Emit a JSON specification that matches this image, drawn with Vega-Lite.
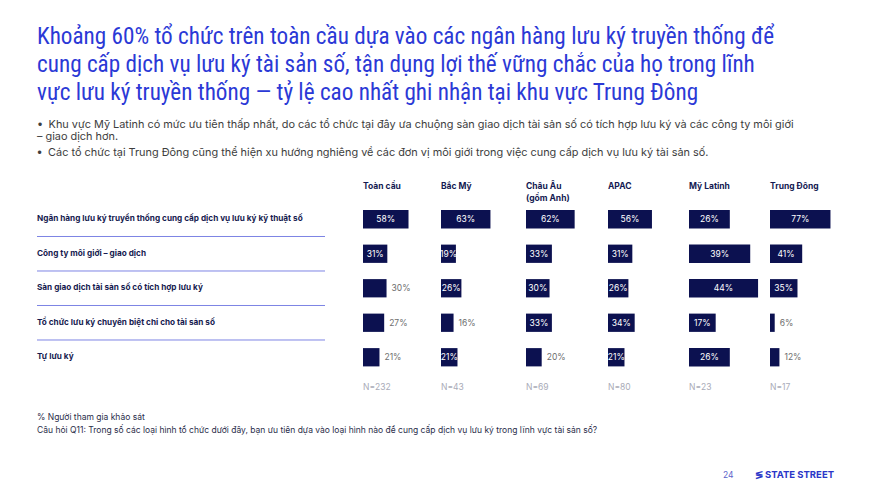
{
  "$schema": "https://vega.github.io/schema/vega-lite/v6.json",
  "padding": {"left": 36, "top": 24.5, "right": 10, "bottom": 8},
  "background": "white",
  "title": {
    "text": [
      "Khoảng 60% tổ chức trên toàn cầu dựa vào các ngân hàng lưu ký truyền thống để",
      "cung cấp dịch vụ lưu ký tài sản số, tận dụng lợi thế vững chắc của họ trong lĩnh",
      "vực lưu ký truyền thống — tỷ lệ cao nhất ghi nhận tại khu vực Trung Đông"
    ],
    "subtitle": [
      "•\u2002Khu vực Mỹ Latinh có mức ưu tiên thấp nhất, do các tổ chức tại đây ưa chuộng sàn giao dịch tài sản số có tích hợp lưu ký và các công ty môi giới",
      "\u2002\u2002– giao dịch hơn."
    ],
    "anchor": "start",
    "frame": "group",
    "font": "Noto Sans SemiCondensed, Nimbus Sans Narrow, Roboto Condensed, Arial Narrow, Fira Sans Condensed, Ubuntu Condensed, Open Sans Condensed",
    "fontSize": 23.2,
    "fontWeight": "normal",
    "lineHeight": 28,
    "color": "#2b39d6",
    "subtitleFont": "Inter",
    "subtitleFontSize": 10.9,
    "subtitleColor": "#3d3d3d",
    "subtitleLineHeight": 12,
    "subtitlePadding": 13.5,
    "offset": 4
  },
  "datasets": {
    "d": [
      {"region": "Toàn cầu", "cat": "Ngân hàng lưu ký truyền thống cung cấp dịch vụ lưu ký kỹ thuật số", "value": 0.58},
      {"region": "Toàn cầu", "cat": "Công ty môi giới – giao dịch", "value": 0.31},
      {"region": "Toàn cầu", "cat": "Sàn giao dịch tài sản số có tích hợp lưu ký", "value": 0.30},
      {"region": "Toàn cầu", "cat": "Tổ chức lưu ký chuyên biệt chỉ cho tài sản số", "value": 0.27},
      {"region": "Toàn cầu", "cat": "Tự lưu ký", "value": 0.21},
      {"region": "Bắc Mỹ", "cat": "Ngân hàng lưu ký truyền thống cung cấp dịch vụ lưu ký kỹ thuật số", "value": 0.63},
      {"region": "Bắc Mỹ", "cat": "Công ty môi giới – giao dịch", "value": 0.19},
      {"region": "Bắc Mỹ", "cat": "Sàn giao dịch tài sản số có tích hợp lưu ký", "value": 0.26},
      {"region": "Bắc Mỹ", "cat": "Tổ chức lưu ký chuyên biệt chỉ cho tài sản số", "value": 0.16},
      {"region": "Bắc Mỹ", "cat": "Tự lưu ký", "value": 0.21},
      {"region": "Châu Âu", "cat": "Ngân hàng lưu ký truyền thống cung cấp dịch vụ lưu ký kỹ thuật số", "value": 0.62},
      {"region": "Châu Âu", "cat": "Công ty môi giới – giao dịch", "value": 0.33},
      {"region": "Châu Âu", "cat": "Sàn giao dịch tài sản số có tích hợp lưu ký", "value": 0.30},
      {"region": "Châu Âu", "cat": "Tổ chức lưu ký chuyên biệt chỉ cho tài sản số", "value": 0.33},
      {"region": "Châu Âu", "cat": "Tự lưu ký", "value": 0.20},
      {"region": "APAC", "cat": "Ngân hàng lưu ký truyền thống cung cấp dịch vụ lưu ký kỹ thuật số", "value": 0.56},
      {"region": "APAC", "cat": "Công ty môi giới – giao dịch", "value": 0.31},
      {"region": "APAC", "cat": "Sàn giao dịch tài sản số có tích hợp lưu ký", "value": 0.26},
      {"region": "APAC", "cat": "Tổ chức lưu ký chuyên biệt chỉ cho tài sản số", "value": 0.34},
      {"region": "APAC", "cat": "Tự lưu ký", "value": 0.21},
      {"region": "Mỹ Latinh", "cat": "Ngân hàng lưu ký truyền thống cung cấp dịch vụ lưu ký kỹ thuật số", "value": 0.26},
      {"region": "Mỹ Latinh", "cat": "Công ty môi giới – giao dịch", "value": 0.39},
      {"region": "Mỹ Latinh", "cat": "Sàn giao dịch tài sản số có tích hợp lưu ký", "value": 0.44},
      {"region": "Mỹ Latinh", "cat": "Tổ chức lưu ký chuyên biệt chỉ cho tài sản số", "value": 0.17},
      {"region": "Mỹ Latinh", "cat": "Tự lưu ký", "value": 0.26},
      {"region": "Trung Đông", "cat": "Ngân hàng lưu ký truyền thống cung cấp dịch vụ lưu ký kỹ thuật số", "value": 0.77},
      {"region": "Trung Đông", "cat": "Công ty môi giới – giao dịch", "value": 0.41},
      {"region": "Trung Đông", "cat": "Sàn giao dịch tài sản số có tích hợp lưu ký", "value": 0.35},
      {"region": "Trung Đông", "cat": "Tổ chức lưu ký chuyên biệt chỉ cho tài sản số", "value": 0.06},
      {"region": "Trung Đông", "cat": "Tự lưu ký", "value": 0.12}
    ],
    "r": [
      {"region": "Toàn cầu", "header": "Toàn cầu", "n": "N=232"},
      {"region": "Bắc Mỹ", "header": "Bắc Mỹ", "n": "N=43"},
      {"region": "Châu Âu", "header": "Châu Âu\n(gồm Anh)", "n": "N=69"},
      {"region": "APAC", "header": "APAC", "n": "N=80"},
      {"region": "Mỹ Latinh", "header": "Mỹ Latinh", "n": "N=23"},
      {"region": "Trung Đông", "header": "Trung Đông", "n": "N=17"}
    ]
  },
  "spacing": 38,
  "bounds": "flush",
  "hconcat": [
    {
      "width": 288,
      "height": 241.5,
      "data": {"name": "d"},
      "transform": [{"filter": "datum.region == 'Toàn cầu'"}],
      "title": {
        "text": "•\u2002Các tổ chức tại Trung Đông cũng thể hiện xu hướng nghiêng về các đơn vị môi giới trong việc cung cấp dịch vụ lưu ký tài sản số.",
        "orient": "top", "anchor": "start", "offset": 10, "fontSize": 10.9, "fontWeight": "normal", "color": "#3d3d3d", "font": "Inter"
      },
      "layer": [
        {
          "mark": {"type": "text", "align": "left", "fontSize": 8.2, "fontWeight": "bold", "color": "#161b4f"},
          "encoding": {
            "y": {"field": "cat", "type": "nominal", "scale": {"domain": ["H", "Ngân hàng lưu ký truyền thống cung cấp dịch vụ lưu ký kỹ thuật số", "Công ty môi giới – giao dịch", "Sàn giao dịch tài sản số có tích hợp lưu ký", "Tổ chức lưu ký chuyên biệt chỉ cho tài sản số", "Tự lưu ký", "N"]}, "axis": null},
            "x": {"datum": 0, "type": "quantitative", "scale": {"domain": [0, 1]}, "axis": null},
            "text": {"field": "cat"}
          }
        },
        {
          "transform": [{"filter": "datum.cat != 'Tự lưu ký'"}],
          "mark": {"type": "rule", "color": "#7d84e4", "strokeWidth": 1},
          "encoding": {"y": {"field": "cat", "type": "nominal", "bandPosition": 1.443}}
        }
      ]
    },
    {
      "spacing": 0,
      "bounds": "flush",
      "hconcat": [
        {
          "width": 78, "height": 241.5,
          "data": {"name": "d"},
          "transform": [{"filter": "datum.region == 'Toàn cầu'"}],
          "title": {
            "text": ["% Người tham gia khảo sát", "Câu hỏi Q11: Trong số các loại hình tổ chức dưới đây, bạn ưu tiên dựa vào loại hình nào để cung cấp dịch vụ lưu ký trong lĩnh vực tài sản số?"],
            "orient": "bottom", "anchor": "start", "dx": -326, "offset": 4, "fontSize": 8.5, "fontWeight": "normal", "color": "#2a2d4a", "lineHeight": 13, "font": "Inter"
          },
          "layer": [
            {"mark": {"type": "bar", "color": "#0c1150"},
             "encoding": {
               "y": {"field": "cat", "type": "nominal", "scale": {"domain": ["H", "Ngân hàng lưu ký truyền thống cung cấp dịch vụ lưu ký kỹ thuật số", "Công ty môi giới – giao dịch", "Sàn giao dịch tài sản số có tích hợp lưu ký", "Tổ chức lưu ký chuyên biệt chỉ cho tài sản số", "Tự lưu ký", "N"]}, "axis": null},
               "x": {"field": "value", "type": "quantitative", "scale": {"domain": [0, 0.994], "nice": false}, "axis": null}}},
            {"transform": [{"filter": "!(datum.value <= 0.30)"}],
             "mark": {"type": "text", "color": "#ffffff", "fontSize": 8.5},
             "encoding": {"y": {"field": "cat", "type": "nominal"}, "x": {"field": "value", "type": "quantitative", "stack": "zero", "bandPosition": 0.5}, "text": {"field": "value", "type": "quantitative", "format": ".0%"}}},
            {"transform": [{"filter": "datum.value <= 0.30"}],
             "mark": {"type": "text", "color": "#6e6e6e", "align": "left", "dx": 5, "fontSize": 8.5},
             "encoding": {"y": {"field": "cat", "type": "nominal"}, "x": {"field": "value", "type": "quantitative"}, "text": {"field": "value", "type": "quantitative", "format": ".0%"}}},
            {"data": {"name": "r"}, "transform": [{"filter": "datum.region == 'Toàn cầu'"}],
             "mark": {"type": "text", "align": "left", "baseline": "top", "dy": -2.5, "fontSize": 8.5, "fontWeight": "bold", "color": "#141a52", "lineBreak": "\n", "lineHeight": 12},
             "encoding": {"x": {"datum": 0, "type": "quantitative"}, "y": {"datum": "H", "type": "nominal"}, "text": {"field": "header"}}},
            {"data": {"name": "r"}, "transform": [{"filter": "datum.region == 'Toàn cầu'"}],
             "mark": {"type": "text", "align": "left", "dy": -4.5, "fontSize": 8.5, "color": "#a9abb8"},
             "encoding": {"x": {"datum": 0, "type": "quantitative"}, "y": {"datum": "N", "type": "nominal"}, "text": {"field": "n"}}}
          ]
        },
        {
          "width": 85, "height": 241.5,
          "data": {"name": "d"},
          "transform": [{"filter": "datum.region == 'Bắc Mỹ'"}],
          "layer": [
            {"mark": {"type": "bar", "color": "#0c1150"},
             "encoding": {
               "y": {"field": "cat", "type": "nominal", "scale": {"domain": ["H", "Ngân hàng lưu ký truyền thống cung cấp dịch vụ lưu ký kỹ thuật số", "Công ty môi giới – giao dịch", "Sàn giao dịch tài sản số có tích hợp lưu ký", "Tổ chức lưu ký chuyên biệt chỉ cho tài sản số", "Tự lưu ký", "N"]}, "axis": null},
               "x": {"field": "value", "type": "quantitative", "scale": {"domain": [0, 1.083], "nice": false}, "axis": null}}},
            {"transform": [{"filter": "!(datum.value < 0.18)"}],
             "mark": {"type": "text", "color": "#ffffff", "fontSize": 8.5},
             "encoding": {"y": {"field": "cat", "type": "nominal"}, "x": {"field": "value", "type": "quantitative", "stack": "zero", "bandPosition": 0.5}, "text": {"field": "value", "type": "quantitative", "format": ".0%"}}},
            {"transform": [{"filter": "datum.value < 0.18"}],
             "mark": {"type": "text", "color": "#6e6e6e", "align": "left", "dx": 5, "fontSize": 8.5},
             "encoding": {"y": {"field": "cat", "type": "nominal"}, "x": {"field": "value", "type": "quantitative"}, "text": {"field": "value", "type": "quantitative", "format": ".0%"}}},
            {"data": {"name": "r"}, "transform": [{"filter": "datum.region == 'Bắc Mỹ'"}],
             "mark": {"type": "text", "align": "left", "baseline": "top", "dy": -2.5, "fontSize": 8.5, "fontWeight": "bold", "color": "#141a52", "lineBreak": "\n", "lineHeight": 12},
             "encoding": {"x": {"datum": 0, "type": "quantitative"}, "y": {"datum": "H", "type": "nominal"}, "text": {"field": "header"}}},
            {"data": {"name": "r"}, "transform": [{"filter": "datum.region == 'Bắc Mỹ'"}],
             "mark": {"type": "text", "align": "left", "dy": -4.5, "fontSize": 8.5, "color": "#a9abb8"},
             "encoding": {"x": {"datum": 0, "type": "quantitative"}, "y": {"datum": "N", "type": "nominal"}, "text": {"field": "n"}}}
          ]
        },
        {
          "width": 82, "height": 241.5,
          "data": {"name": "d"},
          "transform": [{"filter": "datum.region == 'Châu Âu'"}],
          "layer": [
            {"mark": {"type": "bar", "color": "#0c1150"},
             "encoding": {
               "y": {"field": "cat", "type": "nominal", "scale": {"domain": ["H", "Ngân hàng lưu ký truyền thống cung cấp dịch vụ lưu ký kỹ thuật số", "Công ty môi giới – giao dịch", "Sàn giao dịch tài sản số có tích hợp lưu ký", "Tổ chức lưu ký chuyên biệt chỉ cho tài sản số", "Tự lưu ký", "N"]}, "axis": null},
               "x": {"field": "value", "type": "quantitative", "scale": {"domain": [0, 1.045], "nice": false}, "axis": null}}},
            {"transform": [{"filter": "!(datum.value < 0.25)"}],
             "mark": {"type": "text", "color": "#ffffff", "fontSize": 8.5},
             "encoding": {"y": {"field": "cat", "type": "nominal"}, "x": {"field": "value", "type": "quantitative", "stack": "zero", "bandPosition": 0.5}, "text": {"field": "value", "type": "quantitative", "format": ".0%"}}},
            {"transform": [{"filter": "datum.value < 0.25"}],
             "mark": {"type": "text", "color": "#6e6e6e", "align": "left", "dx": 5, "fontSize": 8.5},
             "encoding": {"y": {"field": "cat", "type": "nominal"}, "x": {"field": "value", "type": "quantitative"}, "text": {"field": "value", "type": "quantitative", "format": ".0%"}}},
            {"data": {"name": "r"}, "transform": [{"filter": "datum.region == 'Châu Âu'"}],
             "mark": {"type": "text", "align": "left", "baseline": "top", "dy": -2.5, "fontSize": 8.5, "fontWeight": "bold", "color": "#141a52", "lineBreak": "\n", "lineHeight": 12},
             "encoding": {"x": {"datum": 0, "type": "quantitative"}, "y": {"datum": "H", "type": "nominal"}, "text": {"field": "header"}}},
            {"data": {"name": "r"}, "transform": [{"filter": "datum.region == 'Châu Âu'"}],
             "mark": {"type": "text", "align": "left", "dy": -4.5, "fontSize": 8.5, "color": "#a9abb8"},
             "encoding": {"x": {"datum": 0, "type": "quantitative"}, "y": {"datum": "N", "type": "nominal"}, "text": {"field": "n"}}}
          ]
        },
        {
          "width": 81, "height": 241.5,
          "data": {"name": "d"},
          "transform": [{"filter": "datum.region == 'APAC'"}],
          "layer": [
            {"mark": {"type": "bar", "color": "#0c1150"},
             "encoding": {
               "y": {"field": "cat", "type": "nominal", "scale": {"domain": ["H", "Ngân hàng lưu ký truyền thống cung cấp dịch vụ lưu ký kỹ thuật số", "Công ty môi giới – giao dịch", "Sàn giao dịch tài sản số có tích hợp lưu ký", "Tổ chức lưu ký chuyên biệt chỉ cho tài sản số", "Tự lưu ký", "N"]}, "axis": null},
               "x": {"field": "value", "type": "quantitative", "scale": {"domain": [0, 1.032], "nice": false}, "axis": null}}},
            {"mark": {"type": "text", "color": "#ffffff", "fontSize": 8.5},
             "encoding": {"y": {"field": "cat", "type": "nominal"}, "x": {"field": "value", "type": "quantitative", "stack": "zero", "bandPosition": 0.5}, "text": {"field": "value", "type": "quantitative", "format": ".0%"}}},
            {"data": {"name": "r"}, "transform": [{"filter": "datum.region == 'APAC'"}],
             "mark": {"type": "text", "align": "left", "baseline": "top", "dy": -2.5, "fontSize": 8.5, "fontWeight": "bold", "color": "#141a52", "lineBreak": "\n", "lineHeight": 12},
             "encoding": {"x": {"datum": 0, "type": "quantitative"}, "y": {"datum": "H", "type": "nominal"}, "text": {"field": "header"}}},
            {"data": {"name": "r"}, "transform": [{"filter": "datum.region == 'APAC'"}],
             "mark": {"type": "text", "align": "left", "dy": -4.5, "fontSize": 8.5, "color": "#a9abb8"},
             "encoding": {"x": {"datum": 0, "type": "quantitative"}, "y": {"datum": "N", "type": "nominal"}, "text": {"field": "n"}}}
          ]
        },
        {
          "width": 81, "height": 241.5,
          "data": {"name": "d"},
          "transform": [{"filter": "datum.region == 'Mỹ Latinh'"}],
          "title": {"text": "24", "orient": "bottom", "anchor": "start", "dx": 34, "offset": 61.5, "fontSize": 8.5, "fontWeight": "normal", "color": "#5b63c9", "font": "Inter"},
          "layer": [
            {"mark": {"type": "bar", "color": "#0c1150"},
             "encoding": {
               "y": {"field": "cat", "type": "nominal", "scale": {"domain": ["H", "Ngân hàng lưu ký truyền thống cung cấp dịch vụ lưu ký kỹ thuật số", "Công ty môi giới – giao dịch", "Sàn giao dịch tài sản số có tích hợp lưu ký", "Tổ chức lưu ký chuyên biệt chỉ cho tài sản số", "Tự lưu ký", "N"]}, "axis": null},
               "x": {"field": "value", "type": "quantitative", "scale": {"domain": [0, 0.516], "nice": false}, "axis": null}}},
            {"mark": {"type": "text", "color": "#ffffff", "fontSize": 8.5},
             "encoding": {"y": {"field": "cat", "type": "nominal"}, "x": {"field": "value", "type": "quantitative", "stack": "zero", "bandPosition": 0.5}, "text": {"field": "value", "type": "quantitative", "format": ".0%"}}},
            {"data": {"name": "r"}, "transform": [{"filter": "datum.region == 'Mỹ Latinh'"}],
             "mark": {"type": "text", "align": "left", "baseline": "top", "dy": -2.5, "fontSize": 8.5, "fontWeight": "bold", "color": "#141a52", "lineBreak": "\n", "lineHeight": 12},
             "encoding": {"x": {"datum": 0, "type": "quantitative"}, "y": {"datum": "H", "type": "nominal"}, "text": {"field": "header"}}},
            {"data": {"name": "r"}, "transform": [{"filter": "datum.region == 'Mỹ Latinh'"}],
             "mark": {"type": "text", "align": "left", "dy": -4.5, "fontSize": 8.5, "color": "#a9abb8"},
             "encoding": {"x": {"datum": 0, "type": "quantitative"}, "y": {"datum": "N", "type": "nominal"}, "text": {"field": "n"}}}
          ]
        },
        {
          "width": 64, "height": 241.5,
          "data": {"name": "d"},
          "transform": [{"filter": "datum.region == 'Trung Đông'"}],
          "title": {"text": "≶ STATE STREET", "orient": "bottom", "anchor": "end", "offset": 60.5, "fontSize": 9.5, "fontWeight": "bold", "color": "#2a36c8", "font": "Inter"},
          "layer": [
            {"mark": {"type": "bar", "color": "#0c1150"},
             "encoding": {
               "y": {"field": "cat", "type": "nominal", "scale": {"domain": ["H", "Ngân hàng lưu ký truyền thống cung cấp dịch vụ lưu ký kỹ thuật số", "Công ty môi giới – giao dịch", "Sàn giao dịch tài sản số có tích hợp lưu ký", "Tổ chức lưu ký chuyên biệt chỉ cho tài sản số", "Tự lưu ký", "N"]}, "axis": null},
               "x": {"field": "value", "type": "quantitative", "scale": {"domain": [0, 0.815], "nice": false}, "axis": null}}},
            {"transform": [{"filter": "!(datum.value < 0.15)"}],
             "mark": {"type": "text", "color": "#ffffff", "fontSize": 8.5},
             "encoding": {"y": {"field": "cat", "type": "nominal"}, "x": {"field": "value", "type": "quantitative", "stack": "zero", "bandPosition": 0.5}, "text": {"field": "value", "type": "quantitative", "format": ".0%"}}},
            {"transform": [{"filter": "datum.value < 0.15"}],
             "mark": {"type": "text", "color": "#6e6e6e", "align": "left", "dx": 5, "fontSize": 8.5},
             "encoding": {"y": {"field": "cat", "type": "nominal"}, "x": {"field": "value", "type": "quantitative"}, "text": {"field": "value", "type": "quantitative", "format": ".0%"}}},
            {"data": {"name": "r"}, "transform": [{"filter": "datum.region == 'Trung Đông'"}],
             "mark": {"type": "text", "align": "left", "baseline": "top", "dy": -2.5, "fontSize": 8.5, "fontWeight": "bold", "color": "#141a52", "lineBreak": "\n", "lineHeight": 12},
             "encoding": {"x": {"datum": 0, "type": "quantitative"}, "y": {"datum": "H", "type": "nominal"}, "text": {"field": "header"}}},
            {"data": {"name": "r"}, "transform": [{"filter": "datum.region == 'Trung Đông'"}],
             "mark": {"type": "text", "align": "left", "dy": -4.5, "fontSize": 8.5, "color": "#a9abb8"},
             "encoding": {"x": {"datum": 0, "type": "quantitative"}, "y": {"datum": "N", "type": "nominal"}, "text": {"field": "n"}}}
          ]
        }
      ]
    }
  ],
  "config": {
    "view": {"stroke": null},
    "font": "Inter",
    "scale": {"bandPaddingInner": 0.47, "bandPaddingOuter": 0.235}
  }
}
